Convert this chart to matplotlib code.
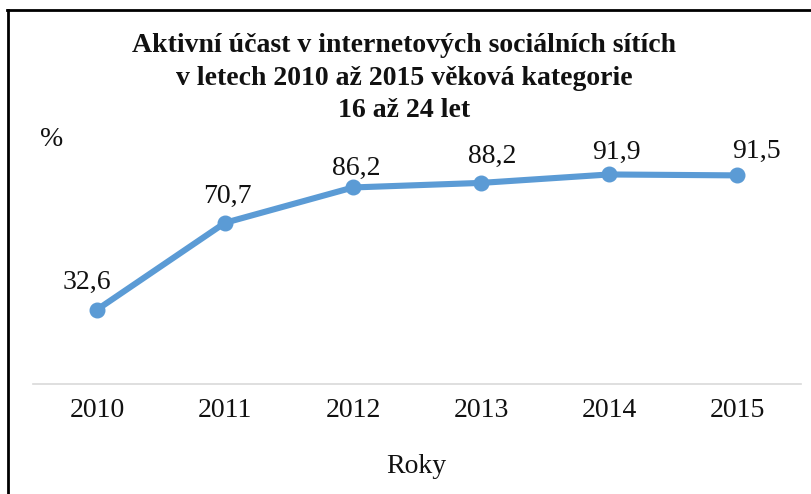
import matplotlib
matplotlib.use("Agg")
import matplotlib.pyplot as plt
from matplotlib.lines import Line2D

years = ["2010", "2011", "2012", "2013", "2014", "2015"]
values = [32.6, 70.7, 86.2, 88.2, 91.9, 91.5]
labels = ["32,6", "70,7", "86,2", "88,2", "91,9", "91,5"]
title = "Aktivní účast v internetových sociálních sítích\nv letech 2010 až 2015 věková kategorie\n16 až 24 let"
xlabel = "Roky"
ylabel = "%"

# label nudges (pixels) as placed in the reference
label_dx = [-10, 2, 3, 11, 7, 19]
label_dy = [27, 26, 19, 26, 22, 24]

FONT = "Liberation Serif"
W, H = 811, 494
fig = plt.figure(figsize=(W / 100, H / 100), dpi=100)
ax = fig.add_axes([33 / W, 1 - 384 / H, (801 - 33) / W, (384 - 156) / H])

x = list(range(len(years)))
ax.plot(x, values, color="#5B9BD5", linewidth=4.4, marker="o", markersize=10.5,
        solid_capstyle="round", zorder=3)

for xi, v, lab, dx, dy in zip(x, values, labels, label_dx, label_dy):
    ax.annotate(lab, (xi, v), xytext=(dx * 0.72, dy * 0.72), textcoords="offset points",
                ha="center", va="center", fontsize=20, family=FONT, color="#111111")

ax.set_xlim(-0.5, len(years) - 0.5)
ax.set_ylim(0, 100)
ax.set_xticks(x)
ax.set_xticklabels(years, fontsize=20, family=FONT, color="#111111")
ax.tick_params(axis="x", length=0, pad=10)
ax.set_yticks([])
for s in ["top", "right", "left"]:
    ax.spines[s].set_visible(False)
ax.spines["bottom"].set_color("#D9D9D9")
ax.spines["bottom"].set_linewidth(1.2)

fig.text(404 / W, 1 - 78 / H, title, ha="center", va="center", fontsize=20,
         fontweight="bold", family=FONT, linespacing=1.42, color="#111111")
fig.text(52 / W, 1 - 140 / H, ylabel, ha="center", va="center", fontsize=20,
         family=FONT, color="#111111")
fig.text(416 / W, 1 - 466 / H, xlabel, ha="center", va="center", fontsize=20,
         family=FONT, color="#111111")

# partial outer frame (top and left)
fig.add_artist(Line2D([7 / W, 1.0], [1 - 10.5 / H, 1 - 10.5 / H], transform=fig.transFigure,
                      color="black", linewidth=2))
fig.add_artist(Line2D([8 / W, 8 / W], [1 - 10.5 / H, 0], transform=fig.transFigure,
                      color="black", linewidth=2))

fig.savefig("out.png", dpi=100)
